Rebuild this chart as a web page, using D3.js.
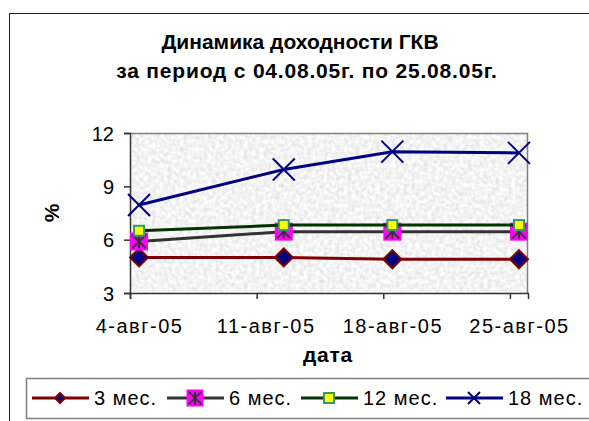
<!DOCTYPE html>
<html>
<head>
<meta charset="utf-8">
<script src="https://cdn.jsdelivr.net/npm/d3@7"></script>
<style>
  body { margin: 0; background: #fff; }
  text { font-family: "Liberation Sans", Arial, sans-serif; fill: #000; }
</style>
</head>
<body>
<script>
// observation dates (day of August 2005)
const dates = [new Date(2005, 7, 4), new Date(2005, 7, 12), new Date(2005, 7, 18), new Date(2005, 7, 25)];
const tickDates = [new Date(2005, 7, 4), new Date(2005, 7, 11), new Date(2005, 7, 18), new Date(2005, 7, 25)];
const tickLabels = ["4-авг-05", "11-авг-05", "18-авг-05", "25-авг-05"];
const yTicks = [3, 6, 9, 12];

const seriesNames = ["3 мес.", "6 мес.", "12 мес.", "18 мес."];
const m3 = [5.0, 5.0, 4.9, 4.9];
const m6 = [5.9, 6.45, 6.45, 6.45];
const m12 = [6.5, 6.82, 6.82, 6.82];
const m18 = [7.95, 9.95, 10.95, 10.88];

const width = 589, height = 421;
const plot = {left: 130, right: 528, top: 133, bottom: 293};

const svg = d3.select('body').append('svg')
  .attr('width', width)
  .attr('height', height);

// granite-like texture for the plot area
const defs = svg.append('defs');
const flt = defs.append('filter').attr('id', 'granite')
  .attr('x', 0).attr('y', 0).attr('width', 1).attr('height', 1);
flt.append('feTurbulence')
  .attr('type', 'fractalNoise')
  .attr('baseFrequency', 0.25)
  .attr('numOctaves', 2)
  .attr('seed', 3)
  .attr('result', 'noise');
flt.append('feColorMatrix')
  .attr('in', 'noise')
  .attr('type', 'matrix')
  .attr('values', '0.4 0 0 0 0.7  0.4 0 0 0 0.7  0.4 0 0 0 0.7  0 0 0 0 1');

// outer chart border
svg.append('rect')
  .attr('x', 9.5).attr('y', 13.5)
  .attr('width', 620).attr('height', 440)
  .attr('fill', 'none')
  .attr('stroke', '#222')
  .attr('stroke-width', 1);

// title
svg.append('text')
  .attr('x', 300).attr('y', 49)
  .attr('text-anchor', 'middle')
  .style('font-weight', 'bold').style('font-size', '21px')
  .text('Динамика доходности ГКВ');
svg.append('text')
  .attr('x', 307).attr('y', 78)
  .attr('text-anchor', 'middle')
  .style('font-weight', 'bold').style('font-size', '21px')
  .style('letter-spacing', '0.8px')
  .text('за период с 04.08.05г. по 25.08.05г.');

const xScale = d3.scaleTime()
  .domain([new Date(2005, 7, 4), new Date(2005, 7, 26)])
  .range([plot.left, plot.right]);
const halfDay = xScale(new Date(2005, 7, 4, 12)) - xScale(new Date(2005, 7, 4));

const yScale = d3.scaleLinear()
  .domain([3, 12])
  .range([plot.bottom, plot.top]);

// plot area
svg.append('rect')
  .attr('x', plot.left).attr('y', plot.top)
  .attr('width', plot.right - plot.left)
  .attr('height', plot.bottom - plot.top)
  .attr('fill', '#e6e6e6')
  .attr('filter', 'url(#granite)');
svg.append('path')
  .attr('d', `M${plot.left},${plot.top + 0.5}H${plot.right - 0.5}V${plot.bottom}`)
  .attr('fill', 'none')
  .attr('stroke', '#808080')
  .attr('stroke-width', 1.5);

// axes
const yAxis = d3.axisLeft(yScale).tickValues(yTicks).tickSize(6).tickPadding(10);
const gy = svg.append('g').attr('transform', `translate(${plot.left},0)`).call(yAxis);
gy.selectAll('text').style('font-size', '20px').attr('dy', '0.36em');

const xAxis = d3.axisBottom(xScale)
  .tickValues(tickDates)
  .tickFormat((d, i) => tickLabels[i])
  .tickSize(6).tickPadding(20);
const gx = svg.append('g').attr('transform', `translate(0,${plot.bottom})`).call(xAxis);
gx.selectAll('text').style('font-size', '20px').style('letter-spacing', '1.5px').attr('dx', halfDay);

[gx, gy].forEach(g => {
  g.select('.domain').attr('stroke', '#333').attr('stroke-width', 1.5);
  g.selectAll('.tick line').attr('stroke', '#333').attr('stroke-width', 1.5);
});

// axis titles
svg.append('text')
  .attr('transform', `translate(59,213) rotate(-90)`)
  .attr('text-anchor', 'middle')
  .style('font-weight', 'bold').style('font-size', '21px')
  .text('%');
svg.append('text')
  .attr('x', 328).attr('y', 362)
  .attr('text-anchor', 'middle')
  .style('font-weight', 'bold').style('font-size', '21px')
  .style('letter-spacing', '0.8px')
  .text('дата');

// marker drawing
function diamond(g, s) {
  g.append('path')
    .attr('d', `M0,${-s}L${s},0L0,${s}L${-s},0Z`)
    .attr('fill', '#000080').attr('stroke', '#800000').attr('stroke-width', 2);
}
function starBox(g, s) {
  g.append('rect').attr('x', -s).attr('y', -s).attr('width', 2 * s).attr('height', 2 * s)
    .attr('fill', '#ff00ff');
  const r = s * 0.75;
  g.append('path')
    .attr('d', `M0,${-r}V${r}M${-r},${-r}L${r},${r}M${r},${-r}L${-r},${r}`)
    .attr('stroke', '#333').attr('stroke-width', 2);
}
function yellowSquare(g, s) {
  g.append('rect').attr('x', -s).attr('y', -s).attr('width', 2 * s).attr('height', 2 * s)
    .attr('fill', '#ffff00').attr('stroke', '#339966').attr('stroke-width', 2);
}
function cross(g, s) {
  g.append('path')
    .attr('d', `M${-s},${-s}L${s},${s}M${s},${-s}L${-s},${s}`)
    .attr('stroke', '#000080').attr('stroke-width', 2);
}

const series = [
  {name: seriesNames[0], values: m3, color: '#800000', marker: diamond, size: 9, legSize: 5},
  {name: seriesNames[1], values: m6, color: '#333333', marker: starBox, size: 9, legSize: 8.5},
  {name: seriesNames[2], values: m12, color: '#003300', marker: yellowSquare, size: 5, legSize: 5},
  {name: seriesNames[3], values: m18, color: '#000080', marker: cross, size: 11, legSize: 6}
];

const line = d3.line()
  .x((d, i) => xScale(dates[i]) + halfDay)
  .y(d => yScale(d));

series.forEach(s => {
  svg.append('path')
    .datum(s.values)
    .attr('d', line)
    .attr('fill', 'none')
    .attr('stroke', s.color)
    .attr('stroke-width', 3);
  s.values.forEach((v, i) => {
    const g = svg.append('g')
      .attr('transform', `translate(${xScale(dates[i]) + halfDay},${yScale(v)})`);
    s.marker(g, s.size);
  });
});

// legend
svg.append('rect')
  .attr('x', 26.5).attr('y', 378.5)
  .attr('width', 600).attr('height', 40)
  .attr('fill', '#fff')
  .attr('stroke', '#808080')
  .attr('stroke-width', 1.5);

const legX = [32, 167, 301, 446];
series.forEach((s, i) => {
  const g = svg.append('g').attr('transform', `translate(${legX[i]},398)`);
  g.append('line').attr('x1', 0).attr('x2', 57).attr('y1', 0).attr('y2', 0)
    .attr('stroke', s.color).attr('stroke-width', 3);
  s.marker(g.append('g').attr('transform', 'translate(28,0)'), s.legSize);
  g.append('text')
    .attr('x', 62).attr('y', 0).attr('dy', '0.36em')
    .style('font-size', '20px')
    .style('letter-spacing', '1px')
    .text(s.name);
});
</script>
</body>
</html>
